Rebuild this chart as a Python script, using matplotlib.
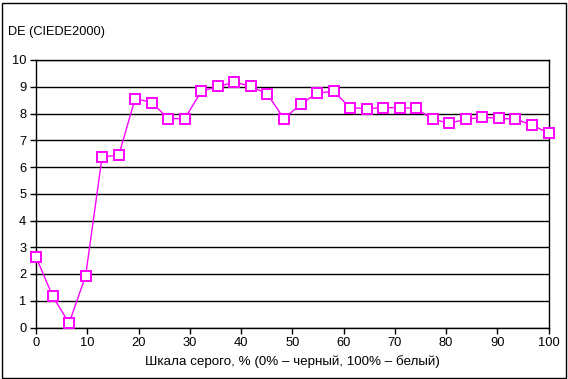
import numpy as np
import matplotlib
matplotlib.use("Agg")
import matplotlib.pyplot as plt
from matplotlib.patches import Rectangle

plt.rcParams['font.family'] = ['Liberation Sans', 'DejaVu Sans']

gray_pct = [100 * i / 31 for i in range(32)]
de_values = [2.64, 1.18, 0.16, 1.93, 6.39, 6.43, 8.56, 8.41, 7.81, 7.81,
             8.83, 9.01, 9.17, 9.02, 8.72, 7.81, 8.34, 8.76, 8.83, 8.22,
             8.18, 8.22, 8.22, 8.19, 7.78, 7.64, 7.78, 7.86, 7.82, 7.79,
             7.57, 7.27]
x_ticks = [0, 10, 20, 30, 40, 50, 60, 70, 80, 90, 100]
y_ticks = list(range(11))
y_label = "DE (CIEDE2000)"
x_label = "Шкала серого, % (0% – черный, 100% – белый)"

W, H = 568, 379
fig = plt.figure(figsize=(W / 100, H / 100), dpi=100)
ax = fig.add_axes([36 / W, 1 - 327.5 / H, (548.5 - 36) / W, (327.5 - 60) / H])

ax.plot(gray_pct, de_values, color='#FF00FF', lw=1.0, marker='s', ms=7,
        mfc='white', mec='#FF00FF', mew=1.4, clip_on=False, zorder=5)

ax.set_xlim(0, 100)
ax.set_ylim(0, 10)
ax.set_xticks(x_ticks)
ax.set_yticks(y_ticks)
ax.yaxis.grid(True, color='black', lw=1.0)
ax.set_axisbelow(True)
for s in ax.spines.values():
    s.set_color('black')
    s.set_linewidth(1.0)
ax.tick_params(axis='both', direction='out', length=4, width=1.0,
               labelsize=9.3, color='black', pad=3)

fig.text(8 / W, 1 - 32 / H, y_label, fontsize=9.2, va='center', ha='left')
fig.text(292 / W, 1 - 362 / H, x_label, fontsize=9.6, va='center', ha='center')

fig.patches.append(Rectangle((1.5 / W, 1.5 / H), (W - 4) / W, (H - 4) / H,
                             transform=fig.transFigure, fill=False,
                             edgecolor='black', lw=1.0))

fig.savefig("out.png", dpi=100)
